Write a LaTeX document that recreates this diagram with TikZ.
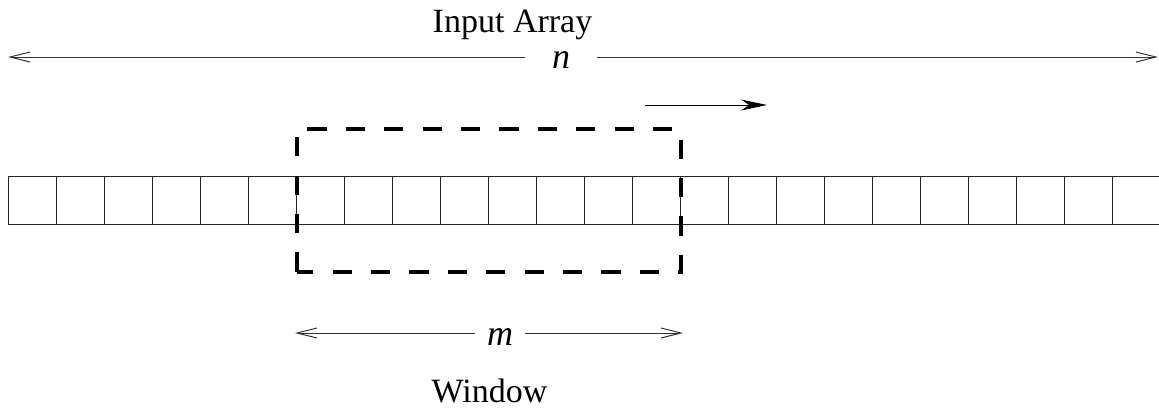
\documentclass[tikz,border=0pt]{standalone}
\usepackage{fontspec}
\setmainfont{Liberation Serif}
\usetikzlibrary{arrows.meta}
\begin{document}
\begin{tikzpicture}[x=1pt,y=-1pt,
  cell/.style={draw=black!85,line width=1pt,minimum width=48pt,minimum height=47.5pt,
    inner sep=0pt,outer sep=0pt,anchor=north west},
  caption/.style={font=\fontsize{34}{40}\selectfont,inner sep=0pt,anchor=base},
  dimlabel/.style={font=\fontsize{36}{40}\selectfont\itshape,inner sep=0pt,outer sep=0pt,
    text depth=0pt},
  dimline/.style={draw=black!80,line width=1pt,-{Straight Barb[length=20pt,width=10pt]}},
  windowbox/.style={line width=4pt,dash pattern=on 19.2pt off 19.2pt,line join=miter},
  move/.style={line width=1pt,-{Stealth[length=26pt,width=11pt,inset=8pt]}}]
\useasboundingbox (0,0) rectangle (1159,408);
% title
\node[caption] (title) at (512.5,32.3) {Input Array};
% n dimension
\node[dimlabel,text height=22.6pt,minimum width=72pt] (n) at (561,57) {n};
\coordinate (nL) at (8,57);
\coordinate (nR) at (1158,57);
\draw[dimline] (n.west) -- (nL);
\draw[dimline] (n.east) -- (nR);
% movement arrow
\coordinate (sa) at (645,105);
\coordinate (sb) at (767,105);
\draw[move] (sa) -- (sb);
% array cells
\foreach \i in {0,...,23}{
  \node[cell] (c\i) at ({8.5+48*\i},176.5) {};
}
% window
\coordinate (wa) at (296.5,271.5);
\coordinate (wb) at (680.5,128.7);
\draw[windowbox] (wa) rectangle (wb);
% m dimension
\node[dimlabel,text height=24pt,minimum width=50pt] (m) at (500,333) {m};
\coordinate (mL) at (295,333);
\coordinate (mR) at (683,333);
\draw[dimline] (m.west) -- (mL);
\draw[dimline] (m.east) -- (mR);
% caption
\node[caption] (wlabel) at (489.5,402.5) {Window};
\end{tikzpicture}
\end{document}
